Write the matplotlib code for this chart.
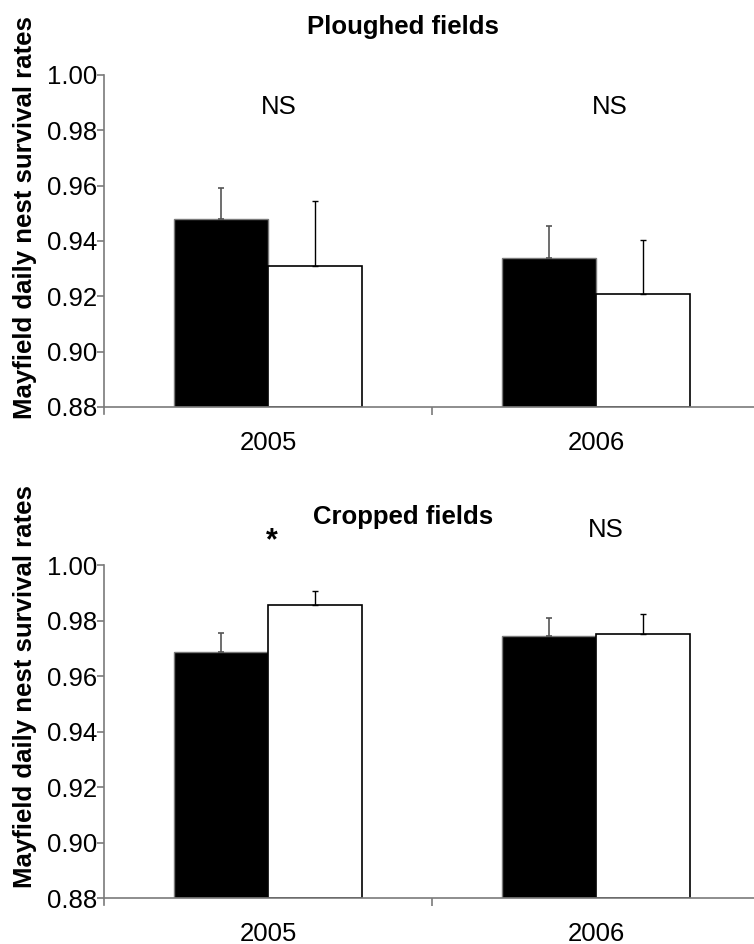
import matplotlib
matplotlib.use("Agg")
import matplotlib.pyplot as plt
import numpy as np

plt.rcParams['font.family'] = ['Liberation Sans', 'DejaVu Sans']

years = ['2005', '2006']

# ploughed fields (black / white bars, upper error)
plough_black = [0.948, 0.934]
plough_black_err = [0.0112, 0.0115]
plough_white = [0.931, 0.921]
plough_white_err = [0.0235, 0.0195]
plough_marks = ['NS', 'NS']

# cropped fields
crop_black = [0.9686, 0.9744]
crop_black_err = [0.0070, 0.0067]
crop_white = [0.9857, 0.9750]
crop_white_err = [0.0050, 0.0074]
crop_marks = ['*', 'NS']

ylabel = 'Mayfield daily nest survival rates'
grey = '#7a7a7a'
fs = 18.5

fig = plt.figure(figsize=(7.54, 9.44), dpi=100)
ax1 = fig.add_axes([0.1379, 0.5689, 0.8621, 0.3517])
ax2 = fig.add_axes([0.1379, 0.0487, 0.8621, 0.3527])

x = np.arange(len(years))
w = 0.2866


def draw(ax, black, black_err, white, white_err):
    hb = np.array(black) - 0.88
    hw = np.array(white) - 0.88
    ax.bar(x - w / 2, hb, w, bottom=0.88, color='black', edgecolor=grey, linewidth=1.0, zorder=2)
    ax.bar(x + w / 2, hw, w, bottom=0.88, color='white', edgecolor='black', linewidth=1.2, zorder=2)
    ax.errorbar(x - w / 2, black, yerr=[np.zeros(len(x)), black_err], fmt='none',
                ecolor='#555555', elinewidth=1.2, capsize=2.5, capthick=1.2, zorder=3)
    ax.errorbar(x + w / 2, white, yerr=[np.zeros(len(x)), white_err], fmt='none',
                ecolor='black', elinewidth=1.0, capsize=2.5, capthick=1.0, zorder=3)
    ax.set_xlim(-0.5, 1.482)
    ax.set_ylim(0.88, 1.0)
    ax.set_yticks(np.arange(0.88, 1.001, 0.02))
    ax.set_yticklabels(['%.2f' % v for v in np.arange(0.88, 1.001, 0.02)])
    ax.set_xticks([0.5])
    ax.set_xticklabels([''])
    ax.set_xticks(x, minor=True)
    ax.set_xticklabels(years, minor=True)
    ax.tick_params(axis='x', which='minor', length=0, pad=17, labelsize=fs)
    ax.tick_params(axis='x', which='major', length=6, width=1.2, color=grey, direction='out')
    ax.tick_params(axis='y', length=5, width=1.2, color=grey, pad=0, labelsize=fs)
    for s in ['top', 'right']:
        ax.spines[s].set_visible(False)
    for s in ['left', 'bottom']:
        ax.spines[s].set_color(grey)
        ax.spines[s].set_linewidth(1.2)
    ax.spines['left'].set_bounds(0.8775, 1.0)


draw(ax1, plough_black, plough_black_err, plough_white, plough_white_err)
draw(ax2, crop_black, crop_black_err, crop_white, crop_white_err)

# significance marks
ax1.text(0.034, 0.9859, plough_marks[0], ha='center', va='baseline', fontsize=fs)
ax1.text(1.043, 0.9859, plough_marks[1], ha='center', va='baseline', fontsize=fs)
ax2.text(0.011, 1.0058, crop_marks[0], ha='center', va='baseline', fontsize=22,
         fontweight='bold', clip_on=False)
ax2.text(1.030, 1.0101, crop_marks[1], ha='center', va='baseline', fontsize=fs, clip_on=False)

fig.text(0.535, 0.9635, 'Ploughed fields', ha='center', va='baseline', fontsize=fs, fontweight='bold')
fig.text(0.534, 0.4446, 'Cropped fields', ha='center', va='baseline', fontsize=fs, fontweight='bold')

fig.text(0.033, 0.770, ylabel, rotation=90, ha='center', va='center', fontsize=fs, fontweight='bold')
fig.text(0.033, 0.273, ylabel, rotation=90, ha='center', va='center', fontsize=fs, fontweight='bold')

fig.savefig('out.png', dpi=100)
